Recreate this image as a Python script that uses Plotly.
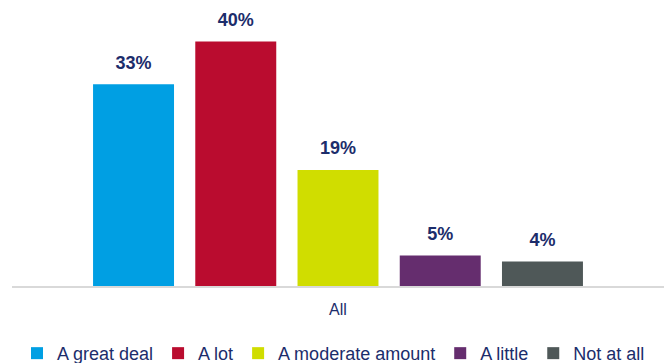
import plotly.graph_objects as go

categories = ["All"]
series_names = ["A great deal", "A lot", "A moderate amount", "A little", "Not at all"]
series_values = [33, 40, 19, 5, 4]
labels = ["33%", "40%", "19%", "5%", "4%"]
colors = ["#009FE3", "#BA0C2F", "#D0DD00", "#652D6E", "#4F5858"]

NAVY = "#1C2D6B"
FONT = "Arial, Liberation Sans, sans-serif"

fig = go.Figure()
for name, val, col in zip(series_names, series_values, colors):
    fig.add_trace(go.Bar(
        x=categories, y=[val], name=name, marker=dict(color=col, line=dict(width=0)),
        hoverinfo="skip",
    ))
for name, val, lab in zip(series_names, series_values, labels):
    fig.add_trace(go.Scatter(
        x=categories, y=[val], mode="markers+text", text=[lab],
        textposition="top center", showlegend=False, hoverinfo="skip",
        marker=dict(size=16, opacity=0),
        textfont=dict(family=FONT, size=18, color=NAVY, weight="bold"),
        cliponaxis=False,
    ))

fig.update_layout(
    width=667, height=363,
    margin=dict(l=12, r=3, t=11, b=77, autoexpand=False),
    paper_bgcolor="white", plot_bgcolor="white",
    barmode="group", bargap=0.216, bargroupgap=0.208,
    scattermode="group", scattergap=0.216,
    font=dict(family=FONT, color=NAVY, size=18),
    showlegend=True,
    legend=dict(orientation="h", x=0.5, xanchor="center", xref="container",
                y=-0.178, yanchor="top", yref="paper",
                font=dict(family=FONT, size=18, color=NAVY), itemwidth=30,
                traceorder="normal", bgcolor="rgba(0,0,0,0)"),
    xaxis=dict(showline=True, linecolor="#D9D9D9", linewidth=2, ticks="",
               showgrid=False, tickfont=dict(size=16, color=NAVY), ticklabelstandoff=8),
    yaxis=dict(range=[0, 45], visible=False, showgrid=False, zeroline=False),
)

fig.write_html("out.html")
